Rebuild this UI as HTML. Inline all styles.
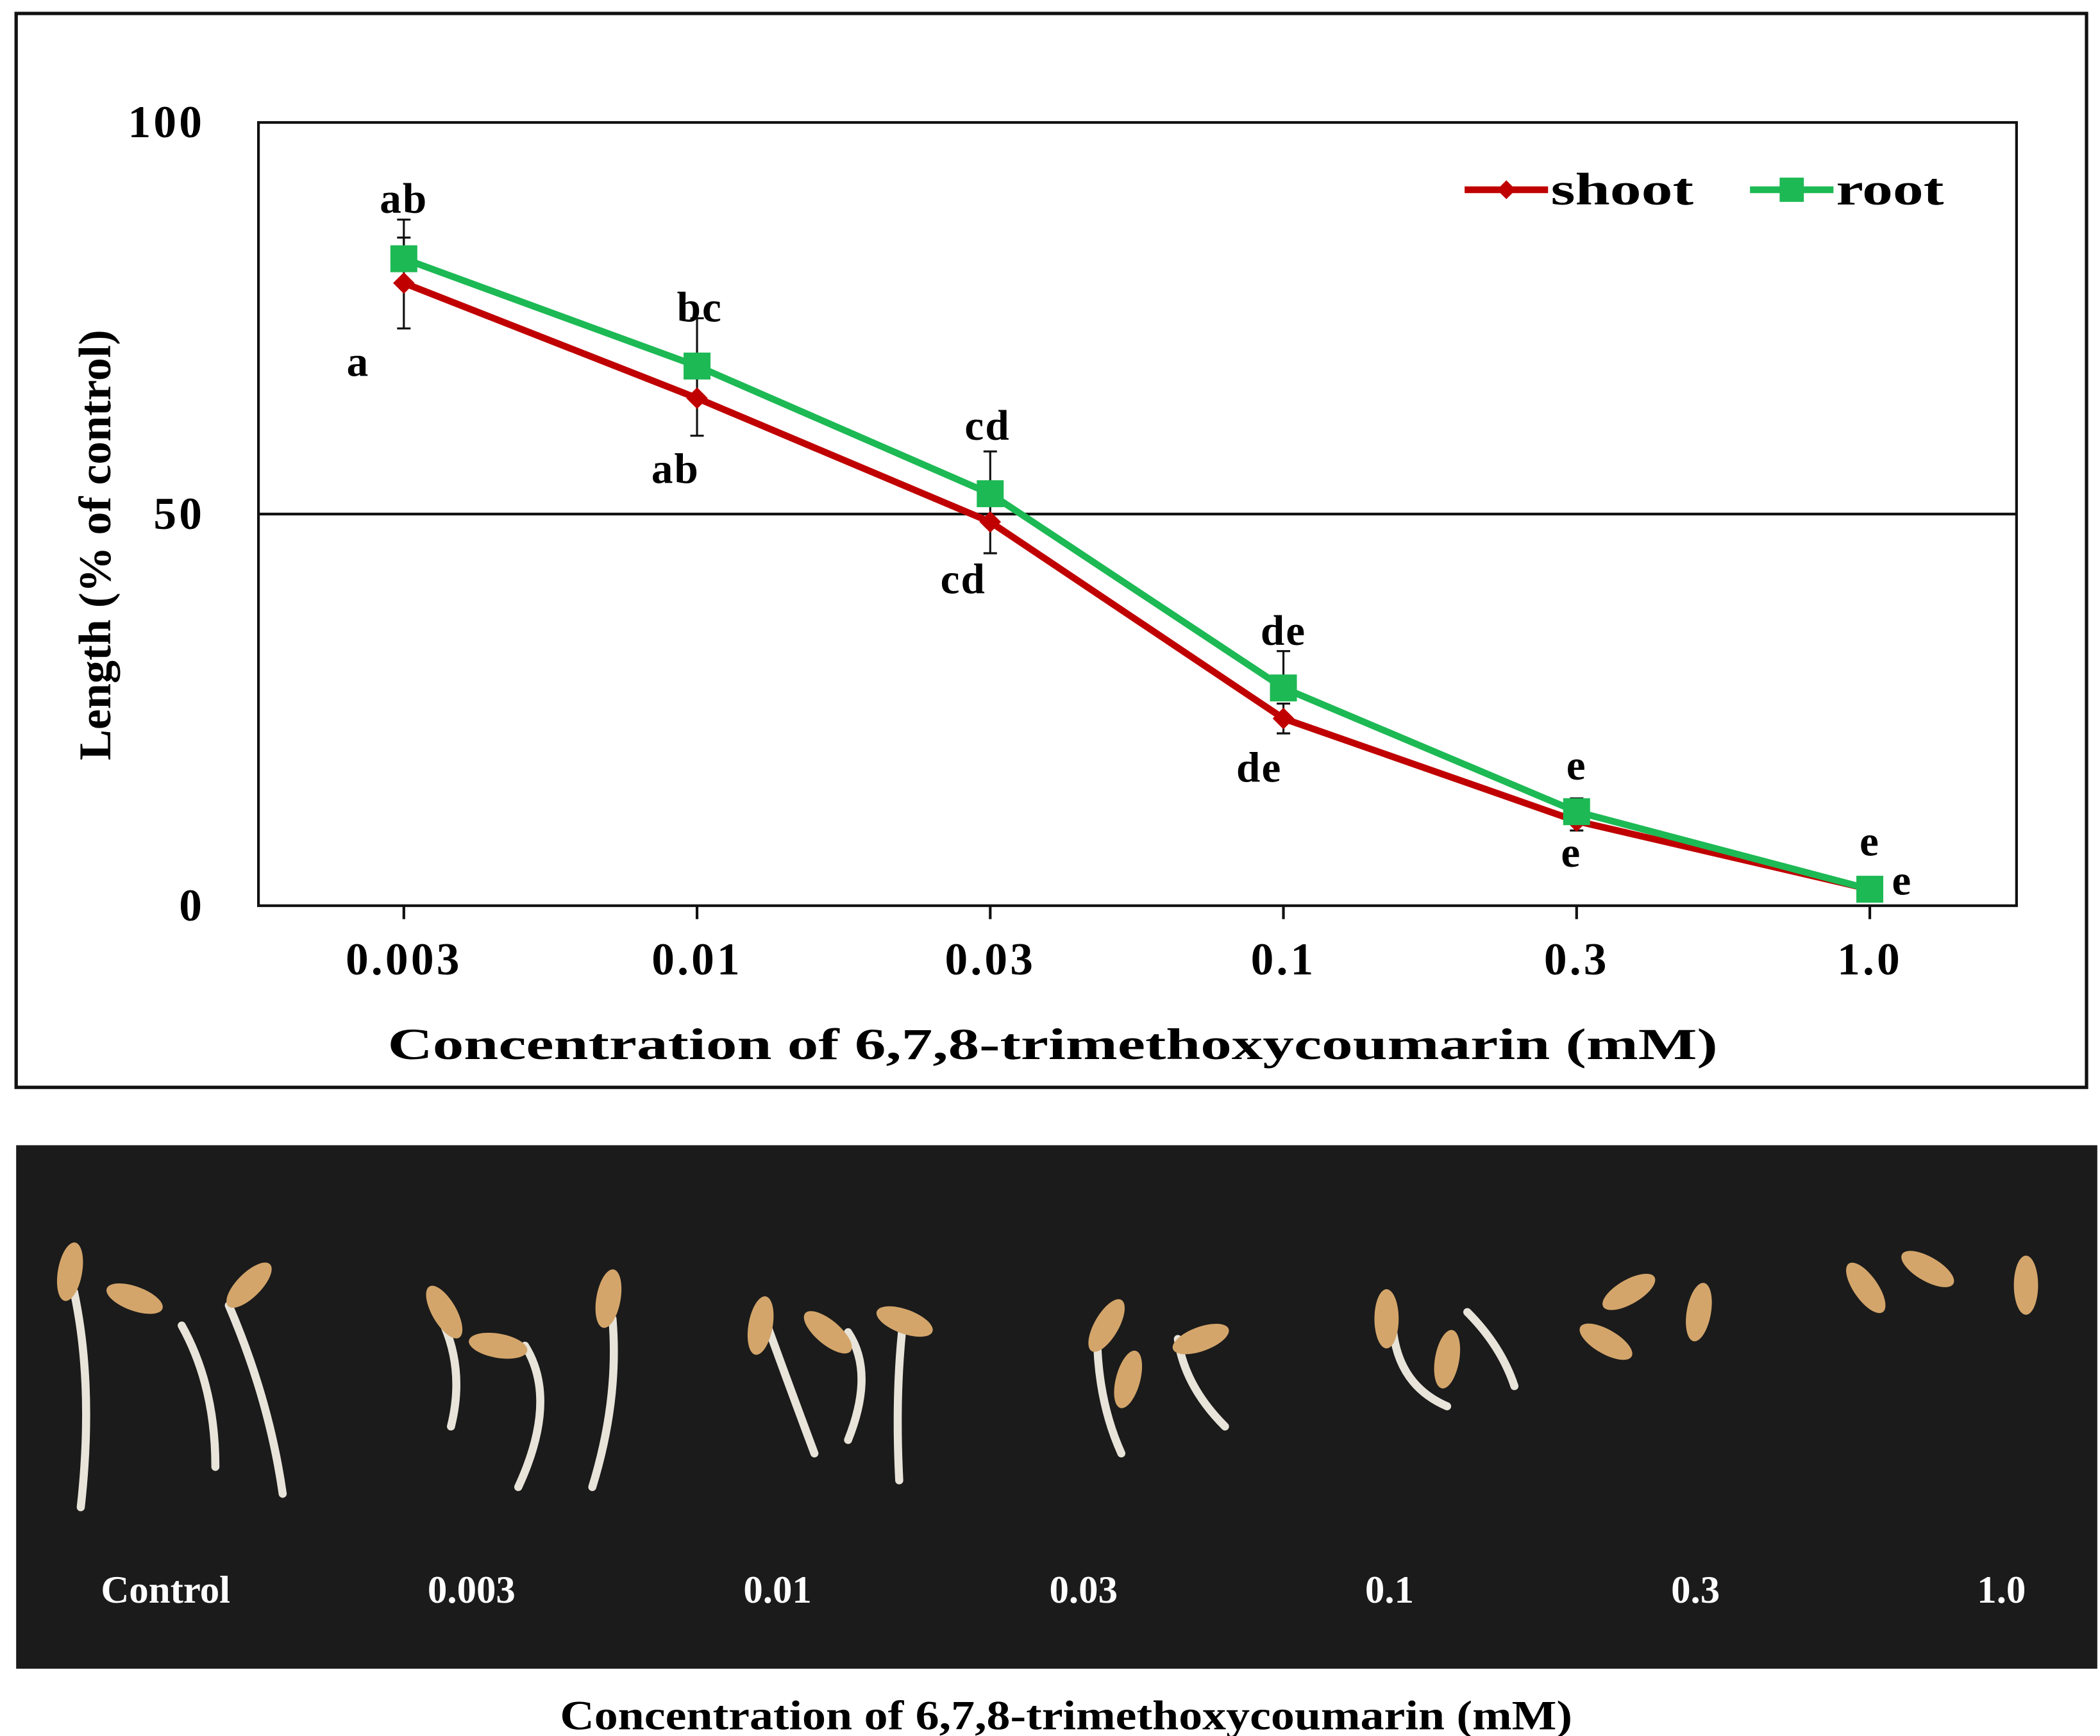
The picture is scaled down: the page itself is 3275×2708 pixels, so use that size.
<!DOCTYPE html>
<html><head><meta charset="utf-8"><style>html,body{margin:0;padding:0;background:#fff}svg{display:block}</style></head>
<body>
<svg id="fig" width="3275" height="2708" viewBox="0 0 1560 1290" preserveAspectRatio="none" xmlns="http://www.w3.org/2000/svg" font-family="Liberation Serif, serif" font-weight="bold">
<rect x="0" y="0" width="1560" height="1290" fill="#fff"/>
<rect x="12" y="10" width="1538" height="798" fill="#fff" stroke="#111" stroke-width="2.5"/>
<rect x="192" y="91" width="1306" height="582" fill="none" stroke="#111" stroke-width="2"/>
<line x1="192" x2="1498" y1="382" y2="382" stroke="#111" stroke-width="2"/>
<g id="yticks"></g><g id="xticks"></g><g id="series"></g><g id="letters"></g>
<text transform="translate(82,405) rotate(-90)" text-anchor="middle" font-size="34" textLength="320" lengthAdjust="spacingAndGlyphs">Length (% of control)</text>
<text x="782" y="787" text-anchor="middle" font-size="33" textLength="988" lengthAdjust="spacingAndGlyphs">Concentration of 6,7,8-trimethoxycoumarin (mM)</text>
<g>
<line x1="1088" x2="1150" y1="141" y2="141" stroke="#c00000" stroke-width="5"/>
<path d="M1119 134 L1126 141 L1119 148 L1112 141Z" fill="#c00000"/>
<text x="1152" y="152" font-size="34" textLength="106" lengthAdjust="spacingAndGlyphs">shoot</text>
<line x1="1300" x2="1362" y1="141" y2="141" stroke="#1db954" stroke-width="5"/>
<rect x="1322" y="132" width="18" height="18" fill="#1db954"/>
<text x="1364" y="152" font-size="34" textLength="80" lengthAdjust="spacingAndGlyphs">root</text>
</g>
<rect x="12" y="851" width="1546" height="389" fill="#1b1b1b"/>
<g id="seeds"></g>
<g id="photolabels"></g>
<text x="792" y="1285" text-anchor="middle" font-size="31" textLength="752" lengthAdjust="spacingAndGlyphs">Concentration  of 6,7,8-trimethoxycoumarin  (mM)</text>
</svg>
<script>
const categories = ["0.003","0.01","0.03","0.1","0.3","1.0"];
const shootValues = [79.5, 64.8, 49, 23.9, 10.8, 2.1];
const rootValues = [82.6, 68.9, 52.6, 27.8, 12, 2.1];
const shootErr = [5.8, 4.8, 4, 1.9, 1.2, 0.5];
const rootErr = [5, 6.1, 5.4, 4.7, 1.7, 0.5];
const shootLetters = ["a","ab","cd","de","e","e"];
const rootLetters = ["ab","bc","cd","de","e","e"];
const yTicks = [0, 50, 100];
const photoLabels = ["Control","0.003","0.01","0.03","0.1","0.3","1.0"];
const NS = "http://www.w3.org/2000/svg";
function mk(tag, attrs, parent){const e=document.createElementNS(NS,tag);for(const k in attrs)e.setAttribute(k,attrs[k]);parent.appendChild(e);return e;}
const X0=300, DX=(1389-300)/(categories.length-1);
function xs(i){return X0+i*DX;}
function ys(v){return 673-v*(582/100);}
const yt=document.getElementById('yticks');
yTicks.forEach(v=>{const t=mk('text',{x:152,y:ys(v)+11,'text-anchor':'end','font-size':34,'letter-spacing':2},yt);t.textContent=v;

});
const xt=document.getElementById('xticks');
categories.forEach((c,i)=>{const l=mk('line',{x1:xs(i),x2:xs(i),y1:673,y2:683,stroke:'#111','stroke-width':2},xt);


const t=mk('text',{x:xs(i),y:724,'text-anchor':'middle','font-size':34,'letter-spacing':2},xt);t.textContent=c;

});
const sg=document.getElementById('series');
function err(vals,errs,dir,name){vals.forEach((v,i)=>{const y2=ys(v+dir*errs[i]);
const g=mk('g',{stroke:'#111','stroke-width':1.5},sg);


mk('line',{x1:xs(i),x2:xs(i),y1:ys(v),y2:y2},g);mk('line',{x1:xs(i)-5,x2:xs(i)+5,y1:y2,y2:y2},g);});}
err(shootValues,shootErr,-1,'shoot-error-bar');err(shootValues,shootErr,1,'shoot-error-bar');
err(rootValues,rootErr,1,'root-error-bar');
const sp=mk('polyline',{points:shootValues.map((v,i)=>xs(i)+','+ys(v)).join(' '),fill:'none',stroke:'#c00000','stroke-width':5},sg);


shootValues.forEach((v,i)=>{const p=mk('path',{d:`M${xs(i)} ${ys(v)-8} L${xs(i)+8} ${ys(v)} L${xs(i)} ${ys(v)+8} L${xs(i)-8} ${ys(v)}Z`,fill:'#c00000'},sg);

});
const rp=mk('polyline',{points:rootValues.map((v,i)=>xs(i)+','+ys(v)).join(' '),fill:'none',stroke:'#1db954','stroke-width':5},sg);


rootValues.forEach((v,i)=>{const r=mk('rect',{x:xs(i)-10,y:ys(v)-10,width:20,height:20,fill:'#1db954'},sg);

});
const lg=document.getElementById('letters');
const sOff=[[-34,68],[-16,62],[-20,52],[-18,46],[-4,33],[24,3]];
const rOff=[[0,-35],[2,-34],[-2,-41],[0,-33],[0,-25],[0,-26]];
shootLetters.forEach((s,i)=>{const t=mk('text',{x:xs(i)+sOff[i][0],y:ys(shootValues[i])+sOff[i][1]+1,'text-anchor':'middle','font-size':32,'letter-spacing':1},lg);t.textContent=s;

});
rootLetters.forEach((s,i)=>{const t=mk('text',{x:xs(i)+rOff[i][0],y:ys(rootValues[i])+rOff[i][1]+1,'text-anchor':'middle','font-size':32,'letter-spacing':1},lg);t.textContent=s;

});
const pl=document.getElementById('photolabels');
photoLabels.forEach((s,i)=>{const t=mk('text',{x:123+i*227.3,y:1191,'text-anchor':'middle','font-size':29,fill:'#fff'},pl);t.textContent=s;

});
const sd=document.getElementById('seeds');
const roots=["M55 960 Q70 1030 60 1120","M135 985 Q160 1030 160 1090","M170 970 Q200 1040 210 1110","M330 985 Q345 1020 335 1060","M390 1000 Q415 1040 385 1105","M455 980 Q460 1040 440 1105","M570 985 Q590 1040 605 1080","M630 990 Q650 1020 630 1070","M670 990 Q665 1040 668 1100","M815 990 Q815 1040 833 1080","M875 995 Q880 1030 910 1060","M1035 990 Q1040 1030 1075 1045","M1090 975 Q1115 1000 1125 1030"];
roots.forEach(d=>{const p=mk('path',{d:d,fill:'none',stroke:'#e8e4da','stroke-width':6,'stroke-linecap':'round'},sd);

});
const grains=[[52,945,-80],[100,965,20],[185,955,-45],[330,975,60],[370,1000,10],[452,965,-80],[565,985,-80],[615,990,40],[672,982,20],[822,985,-60],[838,1025,-75],[892,995,-20],[1030,980,-90],[1075,1010,-80],[1210,960,-30],[1193,997,30],[1262,975,-80],[1386,957,55],[1432,943,30],[1505,955,-90]];
grains.forEach(g=>{const e=mk('ellipse',{cx:g[0],cy:g[1],rx:22,ry:9,fill:'#d4a56a',transform:`rotate(${g[2]} ${g[0]} ${g[1]})`},sd);

});
</script>
</body></html>
